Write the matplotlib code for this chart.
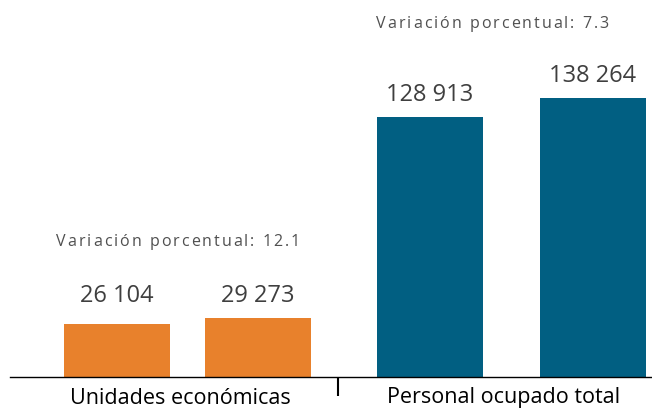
import matplotlib
matplotlib.use("Agg")
import matplotlib.pyplot as plt
from matplotlib import ft2font, font_manager

# data
groups = ["Unidades económicas", "Personal ocupado total"]
values = [26104, 29273, 128913, 138264]
value_labels = ["26 104", "29 273", "128 913", "138 264"]
variations = ["Variación porcentual: 12.1", "Variación porcentual: 7.3"]

orange = "#E8812C"
blue = "#015F82"
bar_colors = [orange, orange, blue, blue]

plt.rcParams["font.family"] = ["Open Sans", "DejaVu Sans"]

fig = plt.figure(figsize=(6.52, 4.09), dpi=100)
W, H = 652, 409
ax = fig.add_axes([10 / W, 32 / H, 642 / W, 377 / H])

# layout (x positions in axis units = pixels from left of axes)
xpos = [107, 248, 420, 583]
ax.bar(xpos, values, width=106, color=bar_colors, zorder=2)
ax.set_xlim(0, 642)
ax.set_ylim(0, 186800)

for s in ["top", "right", "left"]:
    ax.spines[s].set_visible(False)
ax.spines["bottom"].set_color("black")
ax.spines["bottom"].set_linewidth(1)
ax.set_yticks([])
ax.set_xticks([328])
ax.set_xticklabels([""])
ax.tick_params(axis="x", length=14, width=1.5, color="black", direction="out")

# value labels, orange pair aligned at group max
label_tops = [max(values[:2]), max(values[:2]), values[2], values[3]]
for x, top, lab in zip(xpos, label_tops, value_labels):
    ax.annotate(lab, (x, top), xytext=(0, 7), textcoords="offset points",
                ha="center", va="bottom", fontsize=17, color="#3f3f3f")

# group labels
for x, g in zip([180, 504], groups):
    fig.text(x / W, 1 - 398 / H, g, ha="center", va="center",
             fontsize=15.5, color="black")

# letter-spaced subtitles: advance widths straight from the font file
FS = 11.5
font = ft2font.FT2Font(font_manager.findfont(font_manager.FontProperties(family="Open Sans")))
font.set_size(FS, 100)


def spaced_text(x0, yc, s, track, **kw):
    pen = x0
    for ch in s:
        fig.text(pen / W, 1 - yc / H, ch, ha="left", va="baseline", **kw)
        g = font.load_char(ord(ch))
        pen += g.linearHoriAdvance / 65536 + track


for (x0, yb), s in zip([(56, 246), (376, 28)], variations):
    spaced_text(x0, yb, s, 2.0, fontsize=FS, color="#505050")

fig.savefig("out.png", dpi=100)
